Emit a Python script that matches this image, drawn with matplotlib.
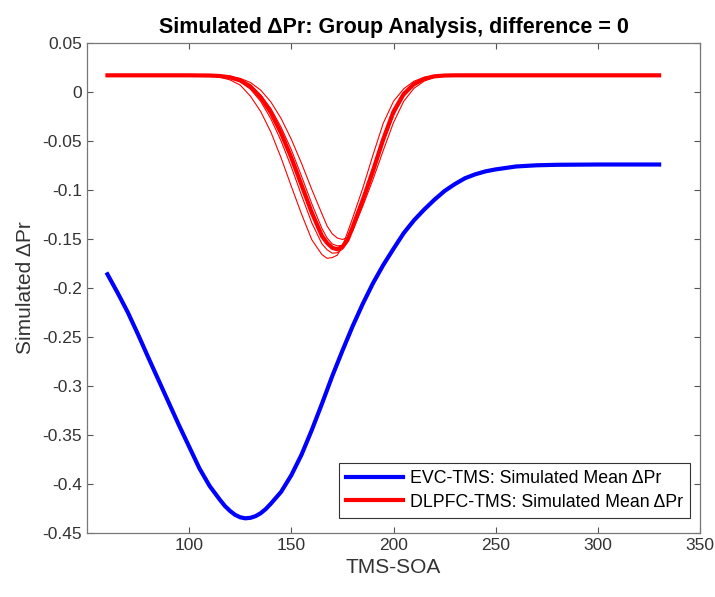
import numpy as np
import matplotlib
matplotlib.use("Agg")
import matplotlib.pyplot as plt

plt.rcParams['font.family'] = ['Liberation Sans', 'DejaVu Sans']
plt.rcParams['axes.unicode_minus'] = False

# --- datos ---
# EVC-TMS: media simulada (linea azul)
x_evc = [60, 65, 70, 75, 80, 85, 90, 95, 100, 105, 110, 115, 117.5, 120, 122.5,
         125, 127.5, 130, 132.5, 135, 137.5, 140, 145, 150, 155, 160, 165, 170,
         175, 180, 185, 190, 195, 200, 205, 210, 215, 220, 225, 230, 235, 240,
         245, 250, 260, 270, 280, 300, 330]
y_evc = [-0.186, -0.205, -0.225, -0.2475, -0.271, -0.294, -0.317, -0.340, -0.362,
         -0.384, -0.402, -0.416, -0.4225, -0.4275, -0.4315, -0.434, -0.435,
         -0.4345, -0.4328, -0.4298, -0.4255, -0.420, -0.408, -0.391, -0.370,
         -0.345, -0.318, -0.290, -0.264, -0.239, -0.216, -0.195, -0.1765, -0.160,
         -0.144, -0.131, -0.120, -0.110, -0.101, -0.094, -0.088, -0.084, -0.081,
         -0.079, -0.076, -0.0748, -0.0743, -0.074, -0.074]

# DLPFC-TMS: media y sujetos simulados (lineas rojas)
x_dl = [60, 100, 110, 115, 120, 125, 130, 135, 140, 145, 150, 155, 160, 165,
        167.5, 170, 172.5, 175, 177.5, 180, 185, 190, 195, 200, 205, 210, 215,
        220, 225, 230, 330]
y_dl_media = [0.017, 0.017, 0.0168, 0.0163, 0.0150, 0.0118, 0.0055, -0.0055,
              -0.021, -0.042, -0.067, -0.095, -0.123, -0.147, -0.154, -0.159,
              -0.1605, -0.158, -0.151, -0.138, -0.110, -0.080, -0.048, -0.020,
              -0.002, 0.008, 0.0135, 0.0160, 0.0168, 0.017, 0.017]
y_dl_a = [0.017, 0.017, 0.0164, 0.0152, 0.0123, 0.0070, -0.0043, -0.0199, -0.041,
          -0.0673, -0.0963, -0.1246, -0.1507, -0.166, -0.1697, -0.169, -0.1665,
          -0.1574, -0.1432, -0.1287, -0.0979, -0.0640, -0.0318, -0.0095, 0.0033,
          0.0110, 0.0149, 0.0165, 0.0169, 0.017, 0.017]
y_dl_b = [0.017, 0.017, 0.0169, 0.0166, 0.0159, 0.0139, 0.0097, 0.0019, -0.0102,
          -0.0270, -0.0483, -0.0729, -0.0994, -0.1245, -0.1367, -0.1447, -0.149,
          -0.1505, -0.1486, -0.1419, -0.1164, -0.0890, -0.0596, -0.0312, -0.0095,
          0.0037, 0.0111, 0.0149, 0.0164, 0.0169, 0.017]
y_dl_c = [0.017, 0.017, 0.0167, 0.0159, 0.0142, 0.0104, 0.0028, -0.0096, -0.0274,
          -0.0500, -0.0765, -0.1055, -0.1335, -0.155, -0.161, -0.1645, -0.1640,
          -0.1605, -0.153, -0.1405, -0.1115, -0.081, -0.049, -0.0205, -0.0025,
          0.0078, 0.0134, 0.0160, 0.0168, 0.017, 0.017]
y_dl_d = [0.017, 0.017, 0.0169, 0.0164, 0.0153, 0.0125, 0.0072, -0.0030, -0.0170,
          -0.0360, -0.0590, -0.0860, -0.1140, -0.1395, -0.1490, -0.1550, -0.1570,
          -0.1565, -0.1520, -0.1400, -0.1130, -0.0840, -0.0520, -0.0240, -0.0045,
          0.0065, 0.0128, 0.0157, 0.0167, 0.017, 0.017]

xticks = [100, 150, 200, 250, 300, 350]
yticks = [0.05, 0, -0.05, -0.1, -0.15, -0.2, -0.25, -0.3, -0.35, -0.4, -0.45]
ytick_labels = ['0.05', '0', '-0.05', '-0.1', '-0.15', '-0.2', '-0.25', '-0.3',
                '-0.35', '-0.4', '-0.45']

fig = plt.figure(figsize=(7.15, 5.97), dpi=100)
ax = fig.add_axes([0.1217, 0.1072, 0.8573, 0.8208])

# lineas finas de los sujetos
for y_suj in [y_dl_a, y_dl_b, y_dl_c, y_dl_d]:
    ax.plot(x_dl, y_suj, color='#ff0000', linewidth=0.8)

ax.plot(x_evc, y_evc, color='#0000ff', linewidth=3,
        label='EVC-TMS: Simulated Mean \u0394Pr')
ax.plot(x_dl, y_dl_media, color='#ff0000', linewidth=3,
        label='DLPFC-TMS: Simulated Mean \u0394Pr')

ax.set_xlim(50, 350)
ax.set_ylim(-0.45, 0.05)
ax.set_xticks(xticks)
ax.set_xticklabels([str(t) for t in xticks])
ax.set_yticks(yticks)
ax.set_yticklabels(ytick_labels)

ax.tick_params(direction='in', length=4.5, width=0.8, top=True, right=True,
               labelsize=12.5, colors='#555555', labelcolor='#333333')
for sp in ax.spines.values():
    sp.set_color('#777777')
    sp.set_linewidth(0.9)

ax.set_title('Simulated \u0394Pr: Group Analysis, difference = 0',
             fontsize=15.5, fontweight='bold', pad=7)
ax.set_xlabel('TMS-SOA', fontsize=15, color='#333333', labelpad=4)
ax.set_ylabel('Simulated \u0394Pr', fontsize=15, color='#333333', labelpad=5)

leg = ax.legend(loc='lower right', bbox_to_anchor=(0.984, 0.031),
                borderaxespad=0, fontsize=12.8, fancybox=False, framealpha=1,
                edgecolor='#333333', handlelength=3.2, handletextpad=0.4,
                labelspacing=0.35, borderpad=0.4)
leg.get_frame().set_linewidth(0.8)

fig.savefig('out.png', dpi=100)
